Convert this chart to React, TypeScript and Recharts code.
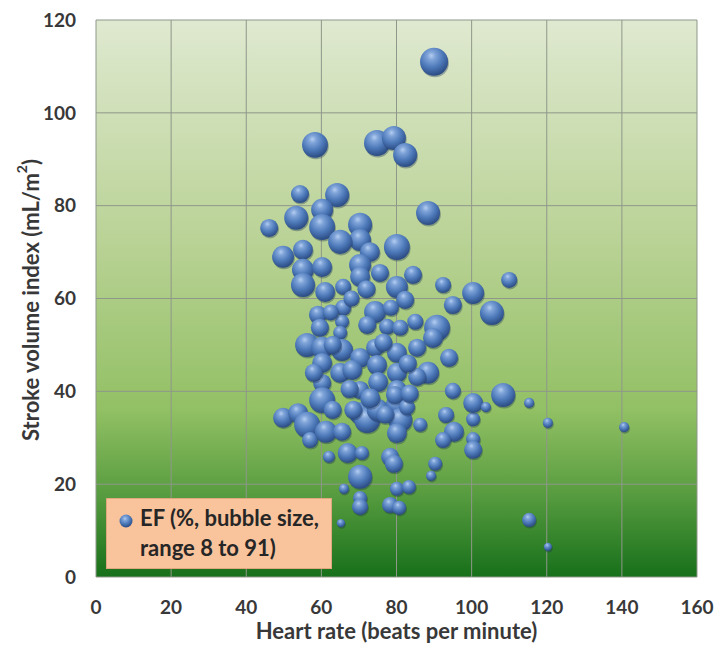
import React from "react";
import {
  ScatterChart,
  Scatter,
  XAxis,
  YAxis,
  ZAxis,
  CartesianGrid,
} from "recharts";

// heart rate (bpm), stroke volume index (mL/m2), ejection fraction (%)
const heartRate = [
  90, 58.3, 74.8, 79.3, 82.3, 88.4, 54.3, 64.2, 60.2, 53.3, 46.1, 60.2, 70.3, 70.3, 65, 72.9,
  80.1, 55.1, 49.8, 55.1, 60.2, 55.1, 61, 65.8, 70.3, 70.3, 75.6, 80.1, 82.3, 84.4, 92.4, 95,
  100.4, 105.4, 110, 65.8, 59.1, 59.6, 65.5, 65, 74.3, 72.2, 77.5, 81, 90.8, 89.7, 56.2, 60.2,
  65.5, 70.3, 74.3, 80.1, 85.5, 88.4, 94, 60.2, 65, 68.2, 74.8, 80.1, 85.5, 60.2, 70.3, 75.1,
  80.1, 95, 108.4, 60.2, 49.8, 53.8, 56.2, 57, 61.2, 65.5, 62, 67, 70.8, 70.3, 66, 70.3,
  70.3, 65.2, 70.3, 72.2, 75, 80.1, 81, 79.6, 80.1, 82.8, 86.3, 78.3, 79.3, 80.1, 83.3, 78.3,
  80.7, 90.3, 89.2, 93.2, 95.3, 92.4, 100.4, 100.4, 100.4, 100.4, 103.8, 115.3, 120.3, 115.3, 120.3, 140.6,
  76.5, 83, 63, 67.5, 73, 77, 83.5, 62.5, 68, 58, 63, 78.5, 85, 72, 68.5,
];

const strokeVolume = [
  111, 93.1, 93.5, 94.6, 90.9, 78.4, 82.5, 82.3, 79.1, 77.4, 75.2, 75.4, 75.9, 72.6, 72.2, 70,
  71.1, 70.5, 69, 66.2, 66.8, 62.9, 61.4, 62.5, 67.2, 64.7, 65.5, 62.5, 59.7, 65.1, 62.9, 58.6,
  61.2, 56.9, 64, 58, 56.5, 53.7, 55, 52.6, 57.1, 54.3, 53.9, 53.7, 53.7, 51.5, 50, 49.4,
  48.9, 47.2, 49.4, 48.3, 49.4, 44, 47.2, 46.1, 44, 44.6, 45.7, 44, 43.1, 41.8, 40.3, 42,
  40.3, 40.1, 39.2, 38.1, 34.3, 35.3, 32.8, 29.5, 31.3, 31.3, 25.9, 26.7, 26.7, 21.6, 19, 17,
  15.1, 11.6, 35.3, 33.8, 36, 37.1, 33.8, 39.2, 31, 36.6, 32.8, 25.9, 24.4, 19, 19.4, 15.5,
  14.9, 24.4, 21.8, 34.9, 31.3, 29.5, 29.7, 27.4, 34, 37.5, 36.6, 37.5, 33.2, 12.3, 6.5, 32.3,
  50.5, 46, 50, 40.5, 38.5, 35, 39.5, 57, 60, 44, 36, 58, 55, 62, 36,
];

const ejectionFraction = [
  91, 78, 78, 67, 67, 67, 38, 67, 56, 67, 38, 78, 67, 56, 67, 46,
  78, 46, 56, 56, 46, 67, 46, 30, 56, 46, 38, 56, 38, 38, 30, 38,
  56, 67, 30, 30, 38, 38, 23, 23, 56, 38, 30, 30, 78, 46, 67, 56,
  56, 46, 38, 46, 38, 56, 38, 46, 46, 46, 46, 46, 38, 38, 38, 46,
  46, 30, 67, 78, 46, 46, 78, 30, 56, 38, 17, 46, 23, 67, 12, 23,
  30, 8, 56, 78, 56, 56, 67, 38, 46, 30, 23, 38, 38, 23, 23, 30,
  23, 23, 12, 30, 46, 30, 23, 38, 23, 46, 12, 12, 12, 23, 8, 12,
  38, 38, 38, 38, 46, 38, 38, 30, 30, 38, 38, 30, 30, 38, 38,
];

const xTicks = [0, 20, 40, 60, 80, 100, 120, 140, 160];
const yTicks = [0, 20, 40, 60, 80, 100, 120];

const data = heartRate.map((hr, i) => ({
  hr,
  svi: strokeVolume[i],
  ef: ejectionFraction[i],
}));

const FONT = "Lato, 'Open Sans', sans-serif";
const TEXT = "#383838";

function Bubble(props: any) {
  const { cx, cy, width } = props;
  if (cx == null || cy == null) return null;
  const r = (width ?? 10) / 2;
  return (
    <g>
      <circle cx={cx + 0.8} cy={cy + 1.5} r={r} fill="rgba(25,45,80,0.35)" />
      <circle cx={cx} cy={cy} r={r} fill="url(#ball)" />
    </g>
  );
}

function YTitle() {
  return (
    <text
      x={30}
      y={300}
      transform="rotate(-90 30 300)"
      textAnchor="middle"
      dominantBaseline="central"
      fill={TEXT}
      fontFamily={FONT}
      fontWeight={700}
      fontSize={22}
    >
      Stroke volume index (mL/m
      <tspan baselineShift="super" fontSize={14}>
        2
      </tspan>
      )
    </text>
  );
}

export default function App() {
  return (
    <div style={{ position: "absolute", left: 0, top: 0, width: 722, height: 647, background: "#fff" }}>
      <ScatterChart
        width={722}
        height={647}
        margin={{ top: 20, right: 25, left: 0, bottom: 0 }}
      >
        <defs>
          <linearGradient id="bg" x1="0" y1="0" x2="0" y2="1">
            <stop offset="0%" stopColor="#dfe9d0" />
            <stop offset="40%" stopColor="#b9d295" />
            <stop offset="70%" stopColor="#92c064" />
            <stop offset="84%" stopColor="#5c9f42" />
            <stop offset="100%" stopColor="#17701a" />
          </linearGradient>
          <radialGradient id="ball" cx="42%" cy="32%" r="68%" fx="40%" fy="28%">
            <stop offset="0%" stopColor="#b4cdf0" />
            <stop offset="22%" stopColor="#7ea3d8" />
            <stop offset="60%" stopColor="#4c78b8" />
            <stop offset="100%" stopColor="#2b4b82" />
          </radialGradient>
        </defs>
        <CartesianGrid stroke="#8f978a" strokeWidth={1} fill="url(#bg)" />
        <XAxis
          type="number"
          dataKey="hr"
          domain={[0, 160]}
          ticks={xTicks}
          interval={0}
          height={70}
          axisLine={false}
          tickLine={false}
          tickMargin={18}
          tick={{ fontSize: 19, fontWeight: 700, fill: TEXT, fontFamily: FONT }}
          label={{
            value: "Heart rate (beats per minute)",
            position: "insideBottom",
            offset: 8,
            fill: TEXT,
            fontSize: 22,
            fontWeight: 700,
            fontFamily: FONT,
          }}
        />
        <YAxis
          type="number"
          dataKey="svi"
          domain={[0, 120]}
          ticks={yTicks}
          interval={0}
          width={96}
          axisLine={false}
          tickLine={false}
          tickMargin={14}
          tick={{ fontSize: 19, fontWeight: 700, fill: TEXT, fontFamily: FONT }}
          label={<YTitle />}
        />
        <ZAxis type="number" dataKey="ef" domain={[0, 91]} range={[0, 616]} />
        <Scatter data={data} shape={<Bubble />} isAnimationActive={false} />
      </ScatterChart>
      <div
        style={{
          position: "absolute",
          left: 106,
          top: 498,
          width: 226,
          height: 71,
          boxSizing: "border-box",
          background: "#f9c39c",
          border: "1px solid #e0a77f",
          fontFamily: FONT,
          fontWeight: 700,
          fontSize: 22,
          color: "#262626",
          lineHeight: "30px",
          padding: "4px 0 0 33px",
          whiteSpace: "nowrap",
        }}
      >
        <svg
          width={14}
          height={14}
          style={{ position: "absolute", left: 12, top: 15 }}
        >
          <defs>
            <radialGradient id="ballLegend" cx="42%" cy="32%" r="68%">
              <stop offset="0%" stopColor="#b4cdf0" />
              <stop offset="22%" stopColor="#7ea3d8" />
              <stop offset="60%" stopColor="#4c78b8" />
              <stop offset="100%" stopColor="#2b4b82" />
            </radialGradient>
          </defs>
          <circle cx={7} cy={7} r={6.5} fill="url(#ballLegend)" />
        </svg>
        <div>EF (%, bubble size,</div>
        <div>range 8 to 91)</div>
      </div>
    </div>
  );
}
